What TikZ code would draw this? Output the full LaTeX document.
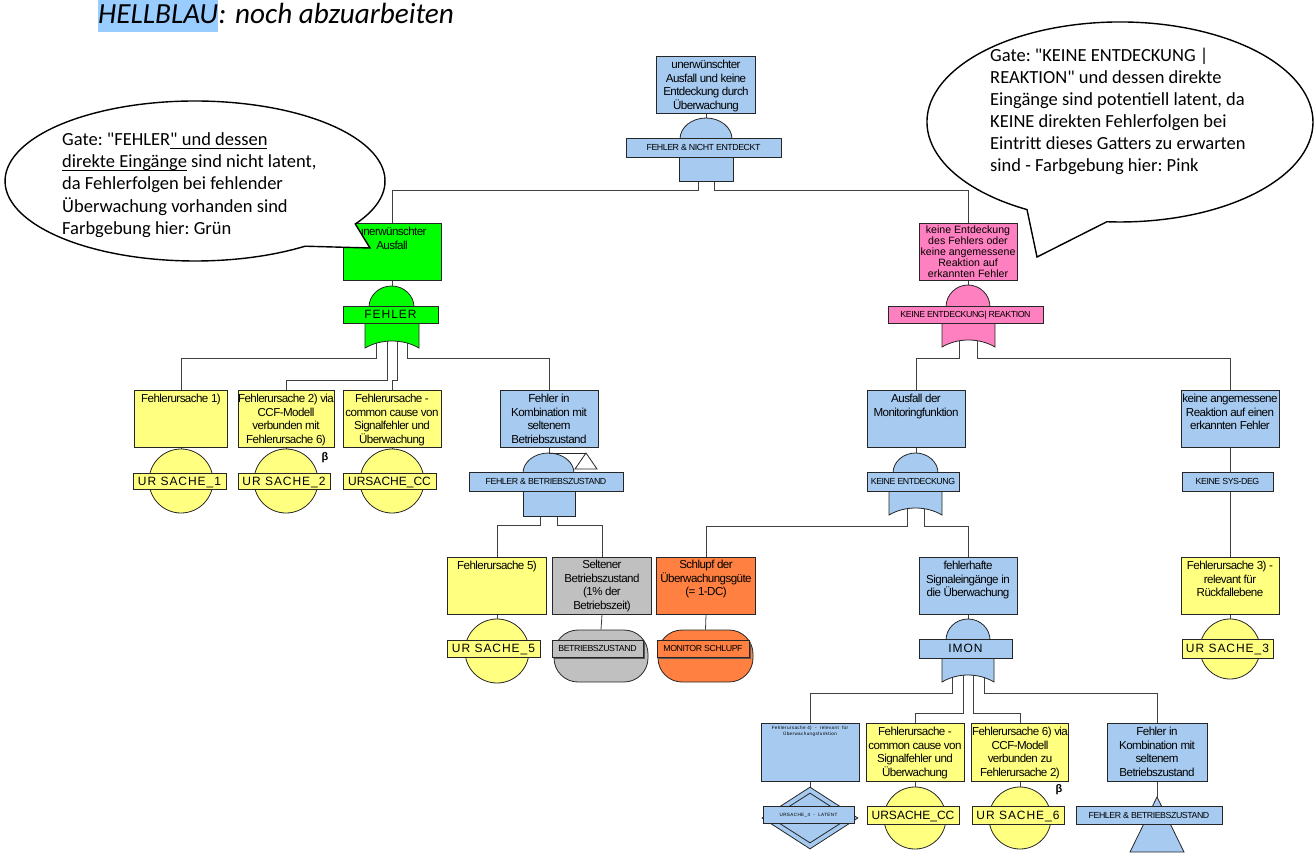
\documentclass[tikz,border=0pt]{standalone}
\usepackage{fontspec}
\setmainfont{Liberation Sans}
\newfontfamily\boxfont{Liberation Sans}[LetterSpace=-5]
\newfontfamily\lblfont{Liberation Sans}[LetterSpace=8]
\newfontfamily\callfont{Carlito}
\usetikzlibrary{shapes.geometric,shadows}

\definecolor{hblau}{HTML}{A6CAF0}
\definecolor{gelb}{HTML}{FFFF80}
\definecolor{gruen}{HTML}{00FF00}
\definecolor{rosa}{HTML}{FF80C0}
\definecolor{grau}{HTML}{C0C0C0}
\definecolor{orangeev}{HTML}{FF8040}
\definecolor{marker}{HTML}{99CCFF}
\definecolor{wirecol}{HTML}{404040}

\pgfdeclarelayer{bg}
\pgfsetlayers{bg,main}

% fonts for box texts and labels
\newcommand\bt{\boxfont\fontsize{11.6}{13.5}\selectfont}
\newcommand\ptxt{\fontsize{10.6}{11}\selectfont}
\newcommand\smallbar{\boxfont\fontsize{8.8}{10}\selectfont}
\newcommand\bigbar{\lblfont\fontsize{12}{14}\selectfont}
\newcommand\plainbar{\fontsize{12}{14}\selectfont}
\newcommand\tinytxt{\lblfont\fontsize{4.6}{6}\selectfont}
\newcommand\calltxt{\callfont\frenchspacing\fontsize{18.5}{22}\selectfont}
\newcommand\headtxt{\callfont\itshape\fontsize{29.2}{32}\selectfont}

% underline at a fixed depth
\newlength\ulwd
\newcommand\ulx[1]{\settowidth{\ulwd}{#1}\rlap{\rule[-3pt]{\ulwd}{0.9pt}}#1}

% gate parts: dome (fill, x left, x right, y top, y base)
\newcommand\domeAt[5]{\path[gateline,fill=#1] (#2,#5) .. controls (#2,{#5-0.55*(#5-#4)}) and ({(#2+#3)/2-0.275*(#3-#2)},#4) .. ({(#2+#3)/2},#4) .. controls ({(#2+#3)/2+0.275*(#3-#2)},#4) and (#3,{#5-0.55*(#5-#4)}) .. (#3,#5) -- cycle;}
% AND body (fill, x left, x right, y top, y bottom)
\newcommand\andBody[5]{\path[gateline,fill=#1] (#2,#4) rectangle (#3,#5);}
% OR body (fill, x left, x right, y top, y corner, y middle)
\newcommand\orBody[6]{\path[gateline,fill=#1] (#2,#4) -- (#2,#5) .. controls ({#2+0.3*(#3-#2)},{(4*#6-#5)/3}) and ({#3-0.3*(#3-#2)},{(4*#6-#5)/3}) .. (#3,#5) -- (#3,#4) -- cycle;}

\tikzset{
  bx/.style={rectangle, draw=black!85, line width=0.9pt, inner sep=0pt, minimum height=57pt},
  txt/.style={inner sep=0pt, align=center, anchor=north, font=\bt},
  gbar/.style={rectangle, draw=black!85, line width=0.8pt, inner sep=0pt, minimum height=19pt, text height=6.3pt, text depth=0pt},
  ebar/.style={rectangle, draw=black!85, line width=0.8pt, inner sep=0pt, minimum height=16pt, text height=8.6pt, text depth=0pt},
  ev/.style={circle, draw=black!85, line width=0.8pt, inner sep=0pt},
  wire/.style={draw=wirecol, line width=0.8pt},
  gateline/.style={draw=black!85, line width=0.8pt},
  callout/.style={draw=black, line width=1.4pt, fill=white},
  ctext/.style={anchor=base west, inner sep=0pt, font=\calltxt},
  betasym/.style={font=\bfseries\fontsize{11}{12}\selectfont, inner sep=0pt},
  shad/.style={drop shadow={shadow xshift=1.5pt, shadow yshift=-1.5pt, fill=black!65, opacity=1}}
}

\begin{document}
\begin{tikzpicture}[x=1pt,y=-1pt]
\useasboundingbox (0,0) rectangle (1314,853);

% heading
\node[anchor=base west, inner sep=0pt, fill=marker, text height=24pt, text depth=8pt,
      font=\headtxt] (hl) at (98,24) {HELLBLAU};
\node[anchor=base west, inner sep=0pt, font=\headtxt] (hlrest) at (hl.base east) {: noch abzuarbeiten};

% ---------- top event and AND gate
\node[bx, fill=hblau, minimum width=99pt] (T) at (706,84.5) {};
\node[txt] (Tt) at ([yshift=-4.5pt]T.north) {unerwünschter\\Ausfall und keine\\Entdeckung durch\\Überwachung};
\coordinate (gTin) at (706,118);
\coordinate (gTo1) at (698,170);
\coordinate (gTo2) at (714,170);
\domeAt{hblau}{680}{732}{118}{139}
\andBody{hblau}{679}{733}{156}{181}
\node[gbar, fill=hblau, minimum width=155pt] (gT) at (703.5,147.5) {\smallbar FEHLER \& NICHT ENTDECKT};

% ---------- green branch
\node[bx, fill=gruen, minimum width=98pt] (G) at (392,251.5) {};
\node[txt] (Gt) at ([yshift=-4.5pt]G.north) {unerwünschter\\Ausfall};
\coordinate (gGin) at (392,286);
\coordinate (gGo1) at (376,335);
\coordinate (gGo2) at (387,335);
\coordinate (gGo3) at (397,335);
\coordinate (gGo4) at (407,335);
\domeAt{gruen}{369}{414}{286}{307}
\orBody{gruen}{365}{419}{322}{348}{341}
\node[gbar, fill=gruen, minimum height=17pt, text height=8.6pt, minimum width=95pt] (gG) at (390.5,314.5) {\bigbar FEHLER};

\node[bx, fill=gelb, minimum width=93pt] (Y1) at (181,418.5) {};
\node[txt] (Y1t) at ([yshift=-4.5pt]Y1.north) {Fehlerursache 1)};
\node[bx, fill=gelb, minimum width=96pt] (Y2) at (286,418.5) {};
\node[txt] (Y2t) at ([yshift=-4.5pt]Y2.north) {Fehlerursache 2) via\\CCF-Modell\\verbunden mit\\Fehlerursache 6)};
\node[bx, fill=gelb, minimum width=98pt] (Y3) at (392,418.5) {};
\node[txt] (Y3t) at ([yshift=-4.5pt]Y3.north) {Fehlerursache -\\common cause von\\Signalfehler und\\Überwachung};
\node[bx, fill=hblau, minimum width=98pt] (B4) at (549,418.5) {};
\node[txt] (B4t) at ([yshift=-4.5pt]B4.north) {Fehler in\\Kombination mit\\seltenem\\Betriebszustand};

\node[ev, fill=gelb, minimum size=64pt] (e1) at (181,481) {};
\node[ebar, fill=gelb, minimum width=93pt] (b1) at (179.5,481) {\bigbar UR SACHE\_1};
\node[ev, fill=gelb, minimum size=64pt] (e2) at (286,481) {};
\node[ebar, fill=gelb, minimum width=92pt] (b2) at (284,481) {\bigbar UR SACHE\_2};
\node[ev, fill=gelb, minimum size=64pt] (e3) at (392,481) {};
\node[ebar, fill=gelb, minimum width=93pt] (b3) at (389.5,481) {\plainbar URSACHE\_CC};
\node[betasym] (beta1) at (325,458) {β};

% AND gate with transfer mark
\coordinate (gBin) at (549,453);
\coordinate (gBtr) at (586,453);
\coordinate (gBo1) at (540,505);
\coordinate (gBo2) at (557,505);
\domeAt{hblau}{523}{574}{453}{473}
\andBody{hblau}{523}{575}{490}{516}
\draw[gateline] (gBin) -- (gBtr);
\path[gateline, fill=white] (gBtr) -- (597,469) -- (575,469) -- cycle;
\node[gbar, fill=hblau, minimum width=154pt] (gB) at (546,481.5) {\smallbar FEHLER \& BETRIEBSZUSTAND};

\node[bx, fill=gelb, minimum width=99pt] (Y5) at (497,585.5) {};
\node[txt] (Y5t) at ([yshift=-4.5pt]Y5.north) {Fehlerursache 5)};
\node[bx, fill=grau, minimum width=99pt] (GR) at (602,585.5) {};
\node[txt] (GRt) at ([yshift=-3.5pt]GR.north) {Seltener\\Betriebszustand\\(1\% der\\Betriebszeit)};
\node[bx, fill=orangeev, minimum width=99pt] (OR) at (706,585.5) {};
\node[txt] (ORt) at ([yshift=-3.5pt]OR.north) {Schlupf der\\Überwachungsgüte\\(= 1-DC)};

\node[ev, fill=gelb, minimum size=64pt] (e5) at (497,651) {};
\node[ebar, fill=gelb, minimum width=93pt, minimum height=17pt] (b5) at (493.5,648.5) {\bigbar UR SACHE\_5};
\node[rectangle, rounded corners=24pt, draw=black!85, line width=0.8pt, fill=grau, minimum width=94pt, minimum height=52pt, inner sep=0pt] (gs) at (601,656) {};
\node[ebar, shad, fill=grau, minimum width=91pt, minimum height=17pt, text height=6.3pt] (bgs) at (597.5,648.5) {\smallbar BETRIEBSZUSTAND};
\node[rectangle, rounded corners=24pt, draw=black!85, line width=0.8pt, fill=orangeev, minimum width=95pt, minimum height=52pt, inner sep=0pt] (os) at (705.5,656) {};
\node[ebar, shad, fill=orangeev, minimum width=92pt, minimum height=17pt, text height=6.3pt] (bos) at (703,648.5) {\smallbar MONITOR SCHLUPF};

% ---------- pink branch
\node[bx, fill=rosa, minimum width=98pt] (P) at (968,251.5) {};
\node[txt, font=\ptxt] (Pt) at ([yshift=-3pt]P.north) {keine Entdeckung\\des Fehlers oder\\keine angemessene\\Reaktion auf\\erkannten Fehler};
\coordinate (gPin) at (968,285);
\coordinate (gPo1) at (959,335);
\coordinate (gPo2) at (977,335);
\domeAt{rosa}{946}{990}{285}{307}
\orBody{rosa}{942}{995}{322}{347}{340}
\node[gbar, fill=rosa, minimum height=17pt, minimum width=155pt] (gP) at (965.5,314.5) {\smallbar KEINE ENTDECKUNG| REAKTION};

\node[bx, fill=hblau, minimum width=98pt] (A) at (916,418.5) {};
\node[txt] (At) at ([yshift=-4.5pt]A.north) {Ausfall der\\Monitoringfunktion};
\coordinate (gAin) at (916,453);
\coordinate (gAo1) at (907,500);
\coordinate (gAo2) at (924,500);
\domeAt{hblau}{893}{938}{453}{473}
\orBody{hblau}{889}{942}{490}{515}{508}
\node[gbar, fill=hblau, minimum width=92pt] (gA) at (913,481.5) {\smallbar KEINE ENTDECKUNG};

\node[bx, fill=hblau, minimum width=98pt] (K) at (1230,418.5) {};
\node[txt] (Kt) at ([yshift=-4.5pt]K.north) {keine angemessene\\Reaktion auf einen\\erkannten Fehler};
\node[gbar, fill=hblau, minimum width=91pt] (gK) at (1227.5,481.5) {\smallbar KEINE SYS-DEG};

\node[bx, fill=gelb, minimum width=98pt] (F3) at (1230,585.5) {};
\node[txt] (F3t) at ([yshift=-4.5pt]F3.north) {Fehlerursache 3) -\\relevant für\\Rückfallebene};
\node[ev, fill=gelb, minimum size=60pt] (e3r) at (1230,649) {};
\node[ebar, fill=gelb, minimum width=91pt, minimum height=19pt] (b3r) at (1227.5,648.5) {\bigbar UR SACHE\_3};

\node[bx, fill=hblau, minimum width=98pt] (FH) at (968,585.5) {};
\node[txt] (FHt) at ([yshift=-4.5pt]FH.north) {fehlerhafte\\Signaleingänge in\\die Überwachung};
\coordinate (gIin) at (968,619);
\coordinate (gIo1) at (952,668);
\coordinate (gIo2) at (963,668);
\coordinate (gIo3) at (973,668);
\coordinate (gIo4) at (984,668);
\domeAt{hblau}{946}{990}{619}{640}
\orBody{hblau}{942}{994}{657}{682}{675}
\node[gbar, fill=hblau, minimum width=93pt, text height=8.6pt] (gI) at (965.5,648.5) {\bigbar IMON};

% ---------- inputs of IMON
\node[bx, fill=hblau, minimum width=98pt, minimum height=58pt] (C1) at (810,752) {};
\node[txt, font=\tinytxt] (C1t) at ([yshift=-3pt]C1.north) {Fehlerursache 4)\ \ -\ \ relevant\ \ für\\Überwachungsfunktion};
\node[bx, fill=gelb, minimum width=98pt, minimum height=58pt] (C2) at (915,752) {};
\node[txt] (C2t) at ([yshift=-4.5pt]C2.north) {Fehlerursache -\\common cause von\\Signalfehler und\\Überwachung};
\node[bx, fill=gelb, minimum width=97pt, minimum height=58pt] (C3) at (1020,752) {};
\node[txt] (C3t) at ([yshift=-4.5pt]C3.north) {Fehlerursache 6) via\\CCF-Modell\\verbunden zu\\Fehlerursache 2)};
\node[bx, fill=hblau, minimum width=100pt, minimum height=58pt] (C4) at (1157,752) {};
\node[txt] (C4t) at ([yshift=-4.5pt]C4.north) {Fehler in\\Kombination mit\\seltenem\\Betriebszustand};

\node[diamond, draw=black!85, line width=0.8pt, fill=hblau, minimum width=96pt, minimum height=62pt, inner sep=0pt] (dia) at (810,818) {};
\node[diamond, draw=black!85, line width=0.8pt, fill=hblau, minimum width=78pt, minimum height=50pt, inner sep=0pt] (diain) at (810,818) {};
\node[ebar, fill=hblau, minimum width=91pt, minimum height=17pt, text height=3.3pt] (bd) at (808.5,814.5) {\tinytxt URSACHE\_4\ \ -\ \ LATENT};
\node[ev, fill=gelb, minimum size=62pt] (ecc) at (915,818) {};
\node[ebar, fill=gelb, minimum width=92pt, minimum height=18pt] (bcc) at (913,815) {\plainbar URSACHE\_CC};
\node[ev, fill=gelb, minimum size=62pt] (e6) at (1020,818) {};
\node[ebar, fill=gelb, minimum width=92pt, minimum height=18pt] (b6) at (1018,815) {\bigbar UR SACHE\_6};
\node[betasym] (beta2) at (1059,790) {β};
\coordinate (triA) at (1157,797);
\path[gateline, fill=hblau] (triA) -- (1184,852) -- (1130,852) -- cycle;
\node[gbar, fill=hblau, minimum width=146pt, minimum height=18pt] (btr) at (1149,815) {\smallbar FEHLER \& BETRIEBSZUSTAND};

% ---------- connectors
\begin{pgfonlayer}{bg}
\draw[wire] (T.south) -- (gTin);
\draw[wire] (gTo1) -- ++(0,20) -| (G.north);
\draw[wire] (gTo2) -- ++(0,20) -| (P.north);
\draw[wire] (G.south) -- (gGin);
\draw[wire] (gGo1) -- ++(0,23) -| (Y1.north);
\draw[wire] (gGo2) -- ++(0,45) -| (Y2.north);
\draw[wire] (gGo3) -- ++(0,45) -| (Y3.north);
\draw[wire] (gGo4) -- ++(0,23) -| (B4.north);
\draw[wire] (Y1.south) -- (e1.north);
\draw[wire] (Y2.south) -- (e2.north);
\draw[wire] (Y3.south) -- (e3.north);
\draw[wire] (B4.south) -- (gBin);
\draw[wire] (gBo1) -- ++(0,20) -| (Y5.north);
\draw[wire] (gBo2) -- ++(0,20) -| (GR.north);
\draw[wire] (Y5.south) -- (e5.north);
\draw[wire] (GR.south) -- (gs.north);
\draw[wire] (OR.south) -- (os.north);
\draw[wire] (P.south) -- (gPin);
\draw[wire] (gPo1) -- ++(0,23) -| (A.north);
\draw[wire] (gPo2) -- ++(0,23) -| (K.north);
\draw[wire] (A.south) -- (gAin);
\draw[wire] (gAo1) -- ++(0,26) -| (OR.north);
\draw[wire] (gAo2) -- ++(0,26) -| (FH.north);
\draw[wire] (K.south) -- (F3.north);
\draw[wire] (F3.south) -- (e3r.north);
\draw[wire] (FH.south) -- (gIin);
\draw[wire] (gIo1) -- ++(0,25) -| (C1.north);
\draw[wire] (gIo2) -- ++(0,45) -| (C2.north);
\draw[wire] (gIo3) -- ++(0,45) -| (C3.north);
\draw[wire] (gIo4) -- ++(0,25) -| (C4.north);
\draw[wire] (C1.south) -- (dia.north);
\draw[wire] (C2.south) -- (ecc.north);
\draw[wire] (C3.south) -- (e6.north);
\draw[wire] (C4.south) -- (triA);
\end{pgfonlayer}

% ---------- callouts
\path[callout] (305.1,246.2) arc[start angle=54.6, end angle=392.5, x radius=190, y radius=80] -- (370,248) -- cycle;
\begin{scope}
\clip (0,0) rectangle (400,236.5);
\node[ctext] (cl1) at (62,146) {Gate: "FEHLER\ulx{" und dessen}};
\node[ctext] (cl2) at (62,168) {\ulx{direkte Eingänge} sind nicht latent,};
\node[ctext] (cl3) at (62,190) {da Fehlerfolgen bei fehlender};
\node[ctext] (cl4) at (62,212) {Überwachung vorhanden sind};
\node[ctext] (cl5) at (62,234) {Farbgebung hier: Grün};
\end{scope}

\path[callout] (1027.0,209.6) arc[start angle=118.8, end angle=453.9, x radius=193, y radius=100] -- (1037,257) -- cycle;
\node[ctext] (cr1) at (990,62) {Gate: "KEINE ENTDECKUNG |};
\node[ctext] (cr2) at (990,84) {REAKTION" und dessen direkte};
\node[ctext] (cr3) at (990,106) {Eingänge sind potentiell latent, da};
\node[ctext] (cr4) at (990,128) {KEINE direkten Fehlerfolgen bei};
\node[ctext] (cr5) at (990,150) {Eintritt dieses Gatters zu erwarten};
\node[ctext] (cr6) at (990,172) {sind - Farbgebung hier: Pink};
\end{tikzpicture}
\end{document}
